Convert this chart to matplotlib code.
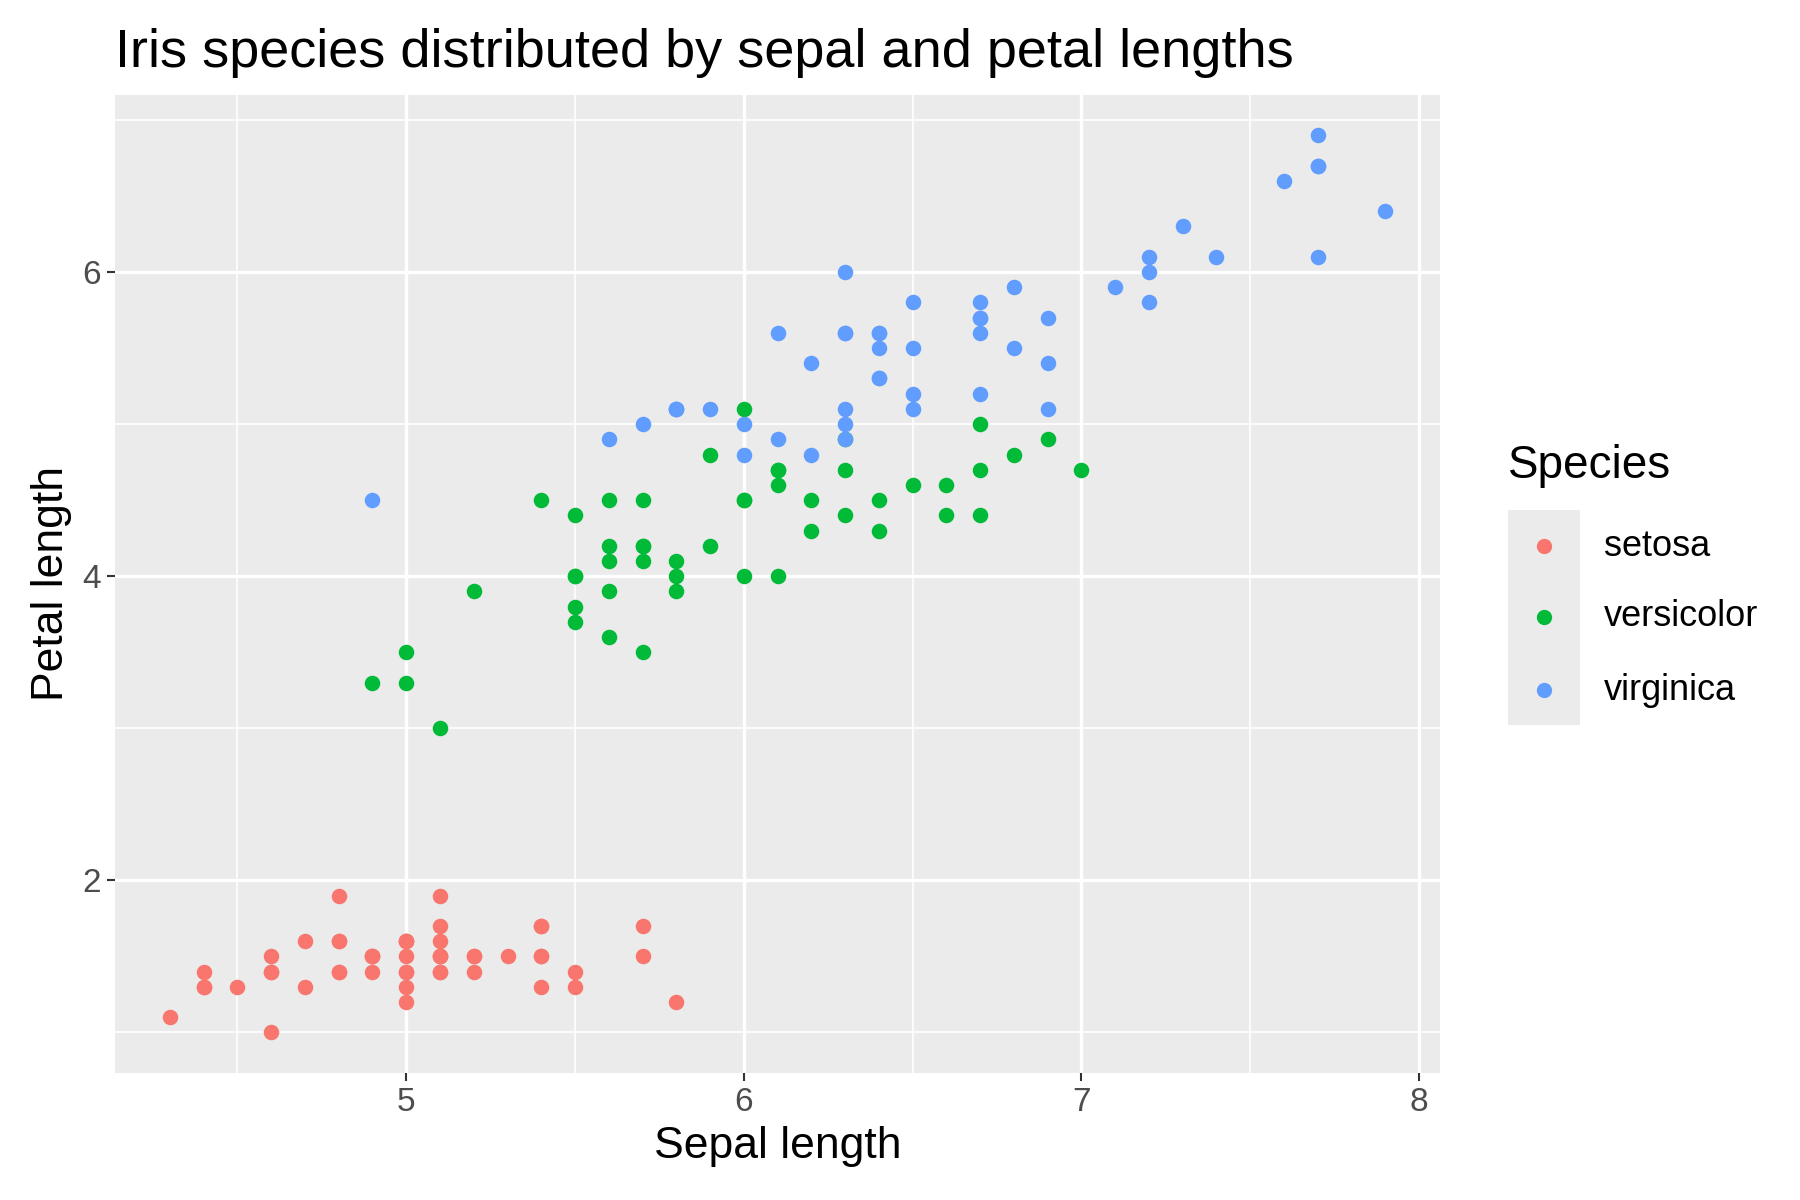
import matplotlib
matplotlib.use("Agg")
import matplotlib.pyplot as plt
from matplotlib.patches import Rectangle
from matplotlib.lines import Line2D

species = ["setosa", "versicolor", "virginica"]
colors = ["#F8766D", "#00BA38", "#619CFF"]
sepal = {
 "setosa": [5.1,4.9,4.7,4.6,5.0,5.4,4.6,5.0,4.4,4.9,5.4,4.8,4.8,4.3,5.8,5.7,5.4,5.1,5.7,5.1,5.4,5.1,4.6,5.1,4.8,5.0,5.0,5.2,5.2,4.7,4.8,5.4,5.2,5.5,4.9,5.0,5.5,4.9,4.4,5.1,5.0,4.5,4.4,5.0,5.1,4.8,5.1,4.6,5.3,5.0],
 "versicolor": [7.0,6.4,6.9,5.5,6.5,5.7,6.3,4.9,6.6,5.2,5.0,5.9,6.0,6.1,5.6,6.7,5.6,5.8,6.2,5.6,5.9,6.1,6.3,6.1,6.4,6.6,6.8,6.7,6.0,5.7,5.5,5.5,5.8,6.0,5.4,6.0,6.7,6.3,5.6,5.5,5.5,6.1,5.8,5.0,5.6,5.7,5.7,6.2,5.1,5.7],
 "virginica": [6.3,5.8,7.1,6.3,6.5,7.6,4.9,7.3,6.7,7.2,6.5,6.4,6.8,5.7,5.8,6.4,6.5,7.7,7.7,6.0,6.9,5.6,7.7,6.3,6.7,7.2,6.2,6.1,6.4,7.2,7.4,7.9,6.4,6.3,6.1,7.7,6.3,6.4,6.0,6.9,6.7,6.9,5.8,6.8,6.7,6.7,6.3,6.5,6.2,5.9],
}
petal = {
 "setosa": [1.4,1.4,1.3,1.5,1.4,1.7,1.4,1.5,1.4,1.5,1.5,1.6,1.4,1.1,1.2,1.5,1.3,1.4,1.7,1.5,1.7,1.5,1.0,1.7,1.9,1.6,1.6,1.5,1.4,1.6,1.6,1.5,1.5,1.4,1.5,1.2,1.3,1.5,1.3,1.5,1.3,1.3,1.3,1.6,1.9,1.4,1.6,1.4,1.5,1.4],
 "versicolor": [4.7,4.5,4.9,4.0,4.6,4.5,4.7,3.3,4.6,3.9,3.5,4.2,4.0,4.7,3.6,4.4,4.5,4.1,4.5,3.9,4.8,4.0,4.9,4.7,4.3,4.4,4.8,5.0,4.5,3.5,3.8,3.7,3.9,5.1,4.5,4.5,4.7,4.4,4.1,4.0,4.4,4.6,4.0,3.3,4.2,4.2,4.2,4.3,3.0,4.1],
 "virginica": [6.0,5.1,5.9,5.6,5.8,6.6,4.5,6.3,5.8,6.1,5.1,5.3,5.5,5.0,5.1,5.3,5.5,6.7,6.9,5.0,5.7,4.9,6.7,4.9,5.7,6.0,4.8,4.9,5.6,5.8,6.1,6.4,5.6,5.1,5.6,6.1,5.6,5.5,4.8,5.4,5.6,5.1,5.1,5.9,5.7,5.2,5.0,5.2,5.4,5.1],
}
xticks = [5, 6, 7, 8]
yticks = [2, 4, 6]
xminor = [4.5, 5.5, 6.5, 7.5]
yminor = [1, 3, 5, 7]

plt.rcParams['font.family'] = ['Liberation Sans', 'DejaVu Sans']
fig = plt.figure(figsize=(18, 12), dpi=100)
ax = fig.add_axes([0.064, 0.106, 0.736, 0.815])
ax.set_facecolor("#EBEBEB")
for v in xminor: ax.axvline(v, color="white", lw=1.2, zorder=0)
for v in yminor: ax.axhline(v, color="white", lw=1.2, zorder=0)
for v in xticks: ax.axvline(v, color="white", lw=2.4, zorder=0)
for v in yticks: ax.axhline(v, color="white", lw=2.4, zorder=0)
for sp, c in zip(species, colors):
    ax.scatter(sepal[sp], petal[sp], s=125, color=c, label=sp, zorder=2, linewidths=0)
xs = sum(sepal.values(), []); ys = sum(petal.values(), [])
dx = (max(xs)-min(xs))*0.045; dy = (max(ys)-min(ys))*0.045
ax.set_xlim(min(xs)-dx, max(xs)+dx); ax.set_ylim(min(ys)-dy, max(ys)+dy)
ax.set_xticks(xticks); ax.set_yticks(yticks)
ax.tick_params(labelsize=24, colors="#4D4D4D", length=6, width=1.5, color="#333333", pad=4)
for s in ax.spines.values(): s.set_visible(False)
ax.set_xlabel("Sepal length", fontsize=32, labelpad=6)
ax.set_ylabel("Petal length", fontsize=32, labelpad=8)
ax.set_title("Iris species distributed by sepal and petal lengths", fontsize=39, loc="left", pad=20)

# legend (ggplot-style, grey key background)
fig.patches.append(Rectangle((0.838, 0.396), 0.040, 0.179, transform=fig.transFigure,
                             facecolor="#EBEBEB", edgecolor="none"))
fig.text(0.838, 0.612, "Species", fontsize=33, va="center", ha="left")
key_y = [0.545, 0.486, 0.425]
for sp, c, yk in zip(species, colors, key_y):
    fig.lines.append(Line2D([0.858], [yk], marker="o", markersize=11, color=c, linestyle="none",
                            markeredgewidth=0, transform=fig.transFigure))
    fig.text(0.891, yk, sp, fontsize=26, va="center", ha="left")
fig.savefig("out.png", dpi=100)
